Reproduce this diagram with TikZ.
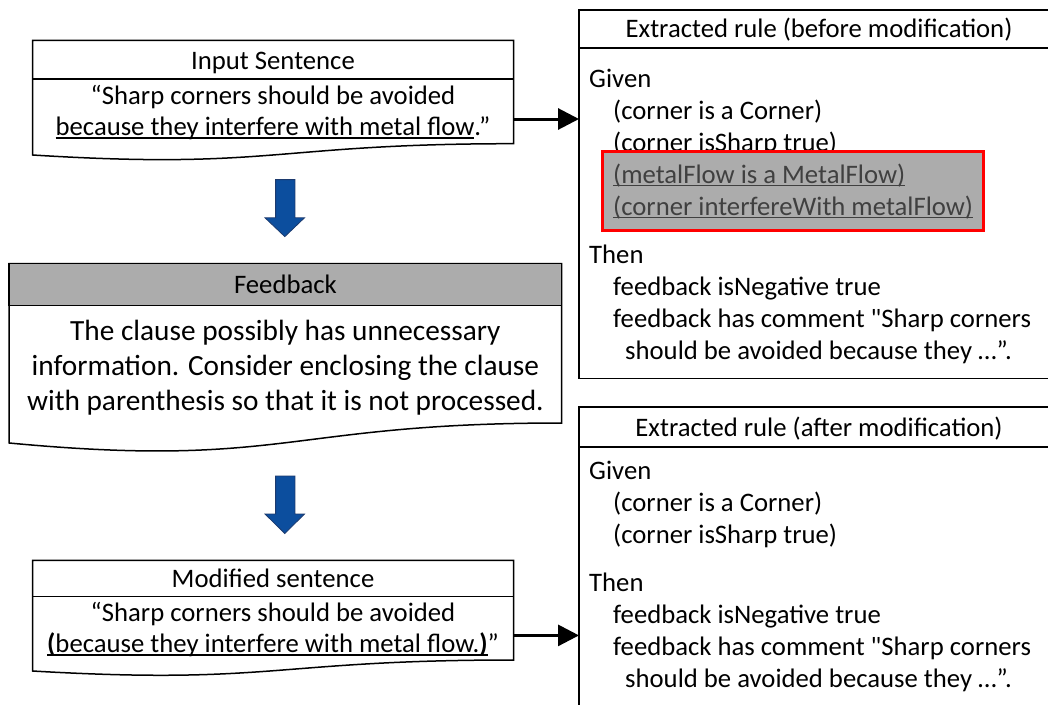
\documentclass[tikz,border=0pt]{standalone}
\usepackage{fontspec}
\setmainfont{Carlito}[Ligatures=TeXOff]
\newcommand\myul[1]{\setbox0\hbox{#1}\rlap{\rule[-3.2pt]{\wd0}{1.3pt}}\box0}
\usetikzlibrary{arrows.meta}
\definecolor{hdrgray}{RGB}{172,172,172}
\definecolor{arrowblue}{RGB}{12,78,158}
\definecolor{arrowedge}{RGB}{28,58,110}
\definecolor{hltext}{RGB}{64,64,64}
\tikzset{
  boxline/.style={draw=black, line width=1.5pt, line join=miter},
  lefttxt/.style={inner sep=0pt, anchor=base, font=\fontsize{26.7}{32}\selectfont},
  fbtxt/.style={inner sep=0pt, anchor=base, font=\fontsize{29.3}{35}\selectfont},
  ruletitle/.style={inner sep=0pt, anchor=base, font=\fontsize{26.7}{32}\selectfont},
  ruletxt/.style={inner sep=0pt, anchor=base west, font=\fontsize{26.7}{32}\selectfont},
  hltxt/.style={ruletxt, text=hltext},
  bluearrow/.style={fill=arrowblue, draw=arrowedge, line width=0.8pt},
  conn/.style={line width=3pt, -{Triangle[length=21pt,width=21pt]}},
  hlbox/.style={fill=hdrgray, draw=red, line width=3pt}
}
\begin{document}
\begin{tikzpicture}[x=1pt,y=-1pt]
\clip (0,0) rectangle (1048,704);
\fill[white] (0,0) rectangle (1048,704);

% ---------- Input sentence ----------
\draw[boxline, fill=white] (32.6,40.4) -- (513.5,40.4) -- (513.5,143.7)
  .. controls (273,143.7) and (273,170) .. (32.6,155) -- cycle;
\draw[boxline] (32.6,79) -- (513.5,79);
\node[lefttxt] (intitle) at (273,69) {Input Sentence};
\node[lefttxt] (inl1) at (273,104.5) {“Sharp corners should be avoided};
\node[lefttxt] (inl2) at (273,135.5) {\myul{because they interfere with metal flow}.”};

% ---------- Blue arrows ----------
\draw[bluearrow] (275.6,179.6) -- (294.9,179.6) -- (294.9,217.8) -- (304.5,217.8)
  -- (284.8,236.6) -- (265,217.8) -- (275.6,217.8) -- cycle;
\draw[bluearrow] (275.6,476) -- (294.9,476) -- (294.9,514) -- (304.5,514)
  -- (284.8,533.5) -- (265,514) -- (275.6,514) -- cycle;

% ---------- Feedback ----------
\draw[boxline, fill=white] (9.2,263.6) -- (561.6,263.6) -- (561.6,423)
  .. controls (285.4,423) and (285.4,469) .. (9.2,443) -- cycle;
\draw[boxline, fill=hdrgray] (9.2,263.6) rectangle (561.6,305.3);
\node[lefttxt] (fbtitle) at (285.4,293) {Feedback};
\node[fbtxt] (fbl1) at (285.4,340.5) {The clause possibly has unnecessary};
\node[fbtxt] (fbl2) at (285.4,375.5) {information. Consider enclosing the clause};
\node[fbtxt] (fbl3) at (285.4,410.5) {with parenthesis so that it is not processed.};

% ---------- Modified sentence ----------
\draw[boxline, fill=white] (32.6,560.4) -- (513.5,560.4) -- (513.5,660)
  .. controls (273,660) and (273,685) .. (32.6,671) -- cycle;
\draw[boxline] (32.6,596.3) -- (513.5,596.3);
\node[lefttxt] (modtitle) at (273,587.5) {Modified sentence};
\node[lefttxt] (modl1) at (273,621.5) {“Sharp corners should be avoided};
\node[lefttxt] (modl2) at (273,652.5) {\myul{\textbf{(}because they interfere with metal flow.\textbf{)}}”};

% ---------- Extracted rule (before) ----------
\draw[boxline] (579,10) rectangle (1062,378.5);
\draw[boxline] (579,48) -- (1062,48);
\node[ruletitle] (r1title) at (819,37) {Extracted rule (before modification)};
\node[ruletxt] (r1g) at (589,87) {Given};
\node[ruletxt] (r1a) at (613,119) {(corner is a Corner)};
\node[ruletxt] (r1b) at (613,151) {(corner isSharp true)};
\draw[hlbox] (602,151) rectangle (983,230);
\node[hltxt] (r1c) at (613,183) {\myul{(metalFlow is a MetalFlow)}};
\node[hltxt] (r1d) at (613,215) {\myul{(corner interfereWith metalFlow)}};
\node[ruletxt] (r1t) at (589,263) {Then};
\node[ruletxt] (r1e) at (613,295) {feedback isNegative true};
\node[ruletxt] (r1f) at (613,327) {feedback has comment "Sharp corners};
\node[ruletxt] (r1h) at (625,359) {should be avoided because they …”.};

% ---------- Extracted rule (after) ----------
\draw[boxline] (579,407) rectangle (1062,720);
\draw[boxline] (579,447) -- (1062,447);
\node[ruletitle] (r2title) at (819,436) {Extracted rule (after modification)};
\node[ruletxt] (r2g) at (589,479) {Given};
\node[ruletxt] (r2a) at (613,511) {(corner is a Corner)};
\node[ruletxt] (r2b) at (613,543) {(corner isSharp true)};
\node[ruletxt] (r2t) at (589,591) {Then};
\node[ruletxt] (r2e) at (613,623) {feedback isNegative true};
\node[ruletxt] (r2f) at (613,655) {feedback has comment "Sharp corners};
\node[ruletxt] (r2h) at (625,687) {should be avoided because they …”.};

% ---------- Connectors ----------
\coordinate (inE) at (513.5,119);
\coordinate (r1W) at (579,119);
\coordinate (modE) at (513.5,635.4);
\coordinate (r2W) at (579,635.4);
\draw[conn] (inE) -- (r1W);
\draw[conn] (modE) -- (r2W);
\end{tikzpicture}
\end{document}
